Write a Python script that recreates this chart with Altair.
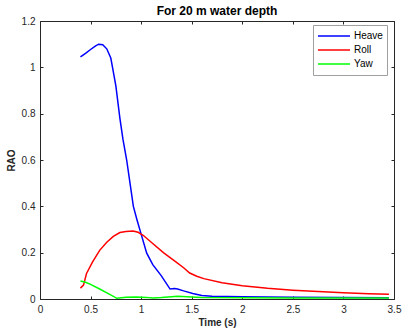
import altair as alt
import pandas as pd

heave_t = [0.4, 0.45, 0.5, 0.55, 0.58, 0.62, 0.66, 0.7, 0.725, 0.75, 0.79, 0.82, 0.857, 0.89, 0.923, 0.96, 1.0, 1.055, 1.115, 1.2, 1.286, 1.33, 1.36, 1.42, 1.51, 1.6, 1.7, 2.0, 2.5, 3.0, 3.45]
heave_v = [1.045, 1.06, 1.077, 1.093, 1.1, 1.098, 1.08, 1.04, 0.98, 0.92, 0.78, 0.69, 0.60, 0.50, 0.40, 0.34, 0.28, 0.198, 0.148, 0.1, 0.043, 0.045, 0.043, 0.035, 0.024, 0.015, 0.012, 0.01, 0.008, 0.006, 0.005]

roll_t = [0.4, 0.43, 0.46, 0.52, 0.59, 0.66, 0.725, 0.79, 0.85, 0.92, 0.97, 1.02, 1.1, 1.22, 1.35, 1.42, 1.48, 1.55, 1.62, 1.8, 2.0, 2.25, 2.5, 2.75, 3.0, 3.25, 3.45]
roll_v = [0.047, 0.06, 0.11, 0.16, 0.21, 0.245, 0.27, 0.287, 0.291, 0.293, 0.288, 0.275, 0.245, 0.20, 0.158, 0.135, 0.112, 0.098, 0.088, 0.07, 0.057, 0.046, 0.038, 0.032, 0.027, 0.023, 0.02]

yaw_t = [0.4, 0.45, 0.5, 0.59, 0.68, 0.76, 0.85, 0.95, 1.05, 1.12, 1.2, 1.3, 1.36, 1.45, 1.6, 2.0, 2.5, 3.0, 3.45]
yaw_v = [0.078, 0.072, 0.063, 0.043, 0.022, 0.003, 0.008, 0.009, 0.007, 0.004, 0.006, 0.01, 0.012, 0.01, 0.007, 0.005, 0.004, 0.004, 0.004]

series = ["Heave", "Roll", "Yaw"]
colors = ["#0000FF", "#FF0000", "#00FF00"]

rows = []
for name, ts, vs in [("Heave", heave_t, heave_v), ("Roll", roll_t, roll_v), ("Yaw", yaw_t, yaw_v)]:
    for i, (t, v) in enumerate(zip(ts, vs)):
        rows.append({"Time": t, "RAO": v, "Series": name, "order": i})
df = pd.DataFrame(rows)

FONT = "Liberation Sans"
TXT = "#262626"

xscale = alt.Scale(domain=[0, 3.5], nice=False, zero=False)
yscale = alt.Scale(domain=[0, 1.2], nice=False)

xticks = [0, 0.5, 1, 1.5, 2, 2.5, 3, 3.5]
yticks = [0, 0.2, 0.4, 0.6, 0.8, 1, 1.2]

base = alt.Chart(df)

lines = base.mark_line(strokeWidth=1.5).encode(
    x=alt.X("Time:Q", scale=xscale, title="Time (s)",
            axis=alt.Axis(values=xticks, tickSize=3, offset=-3, domain=False, grid=False,
                          labelPadding=5, labelFontSize=10, labelColor=TXT, labelFont=FONT,
                          titleFontSize=10, titleFont=FONT, titleColor=TXT, titleFontWeight="bold",
                          titlePadding=3, tickColor=TXT, labelFlush=False,
                          labelExpr="format(datum.value, '~g')")),
    y=alt.Y("RAO:Q", scale=yscale, title="RAO",
            axis=alt.Axis(values=yticks, tickSize=3, offset=-3, domain=False, grid=False,
                          labelPadding=5, labelFontSize=10, labelColor=TXT, labelFont=FONT,
                          titleFontSize=10, titleFont=FONT, titleColor=TXT, titleFontWeight="bold",
                          titlePadding=5, tickColor=TXT, labelFlush=False,
                          labelExpr="format(datum.value, '~g')")),
    color=alt.Color("Series:N", scale=alt.Scale(domain=series, range=colors),
                    legend=alt.Legend(title=None, orient="none", legendX=273, legendY=4,
                                      symbolType="stroke", symbolSize=1024, symbolStrokeWidth=1.5,
                                      labelFontSize=10, labelFont=FONT, labelColor="#000000",
                                      strokeColor="#A0A0A0", fillColor="#FFFFFF", padding=4,
                                      rowPadding=0, clipHeight=14, labelOffset=3)),
    order="order:Q",
)

frame = base.mark_point(opacity=0).encode(
    x=alt.X("Time:Q", scale=xscale,
            axis=alt.Axis(orient="top", values=xticks, tickSize=3, offset=-3, domain=False,
                          labels=False, title=None, grid=False, tickColor=TXT)),
    y=alt.Y("RAO:Q", scale=yscale,
            axis=alt.Axis(orient="right", values=yticks, tickSize=3, offset=-3, domain=False,
                          labels=False, title=None, grid=False, tickColor=TXT)),
)

chart = alt.layer(lines, frame).resolve_axis(x="independent", y="independent").properties(
    width=354, height=278,
    title=alt.Title("For 20 m water depth", fontSize=12, font=FONT, fontWeight="bold",
                    color="#000000", offset=4, dy=6),
    autosize=alt.AutoSizeParams(type="none"),
    padding={"left": 40, "top": 21, "right": 14, "bottom": 35},
).configure_view(stroke=TXT, strokeWidth=1)

chart.save("out.html", embed_options={"renderer": "svg", "actions": False})
